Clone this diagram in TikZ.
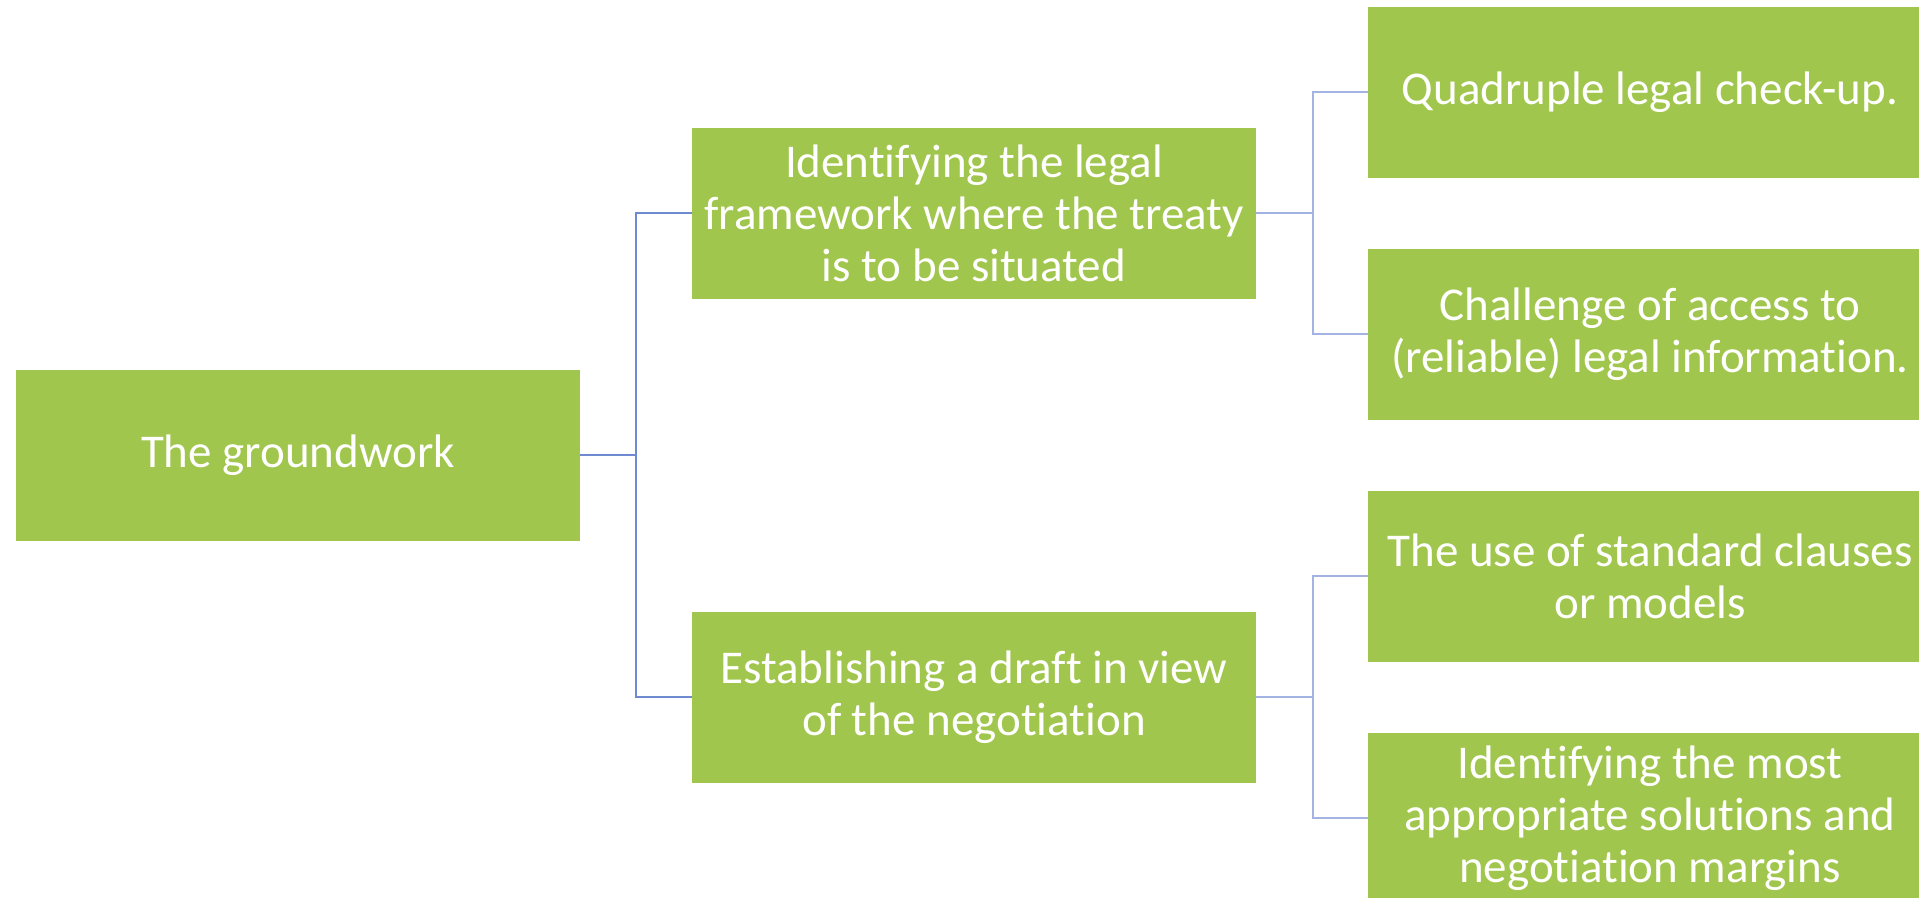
\documentclass[tikz,border=0pt]{standalone}
\usepackage{fontspec}
\setmainfont{Carlito}[Ligatures={NoCommon,NoRare}]
\definecolor{boxgreen}{HTML}{A1C64D}
\definecolor{linedark}{HTML}{6F8BD0}
\definecolor{linelight}{HTML}{A3B3E2}
\begin{document}
\begin{tikzpicture}[x=1pt,y=-1pt,
  gbox/.style={rectangle, fill=boxgreen, text=white, minimum width=564pt, minimum height=171pt,
    inner sep=4pt, align=center, font=\fontsize{47}{52}\selectfont},
  connA/.style={draw=linedark, line width=2.8pt},
  connB/.style={draw=linelight, line width=2.8pt}]
\clip (0,0) rectangle (1919,897);
\fill[white] (0,0) rectangle (1919,897);
\node[gbox] (root) at (298,455) {The groundwork};
\node[gbox] (mid1) at (974,213) {Identifying the legal\\framework where the treaty\\is to be situated};
\node[gbox] (mid2) at (974,697) {Establishing a draft in view\\of the negotiation};
\node[gbox] (leaf1) at (1650,92) {Quadruple legal check-up.};
\node[gbox] (leaf2) at (1650,334) {Challenge of access to\\(reliable) legal information.};
\node[gbox] (leaf3) at (1650,576) {The use of standard clauses\\or models};
\node[gbox] (leaf4) at (1650,818) {Identifying the most\\appropriate solutions and\\negotiation margins};
\coordinate (j0) at (636,455);
\coordinate (j1) at (1313,213);
\coordinate (j2) at (1313,697);
\draw[connA] (root.east) -- (j0);
\draw[connA] (j0) |- (mid1.west);
\draw[connA] (j0) |- (mid2.west);
\draw[connB] (mid1.east) -- (j1);
\draw[connB] (j1) |- (leaf1.west);
\draw[connB] (j1) |- (leaf2.west);
\draw[connB] (mid2.east) -- (j2);
\draw[connB] (j2) |- (leaf3.west);
\draw[connB] (j2) |- (leaf4.west);
\end{tikzpicture}
\end{document}
